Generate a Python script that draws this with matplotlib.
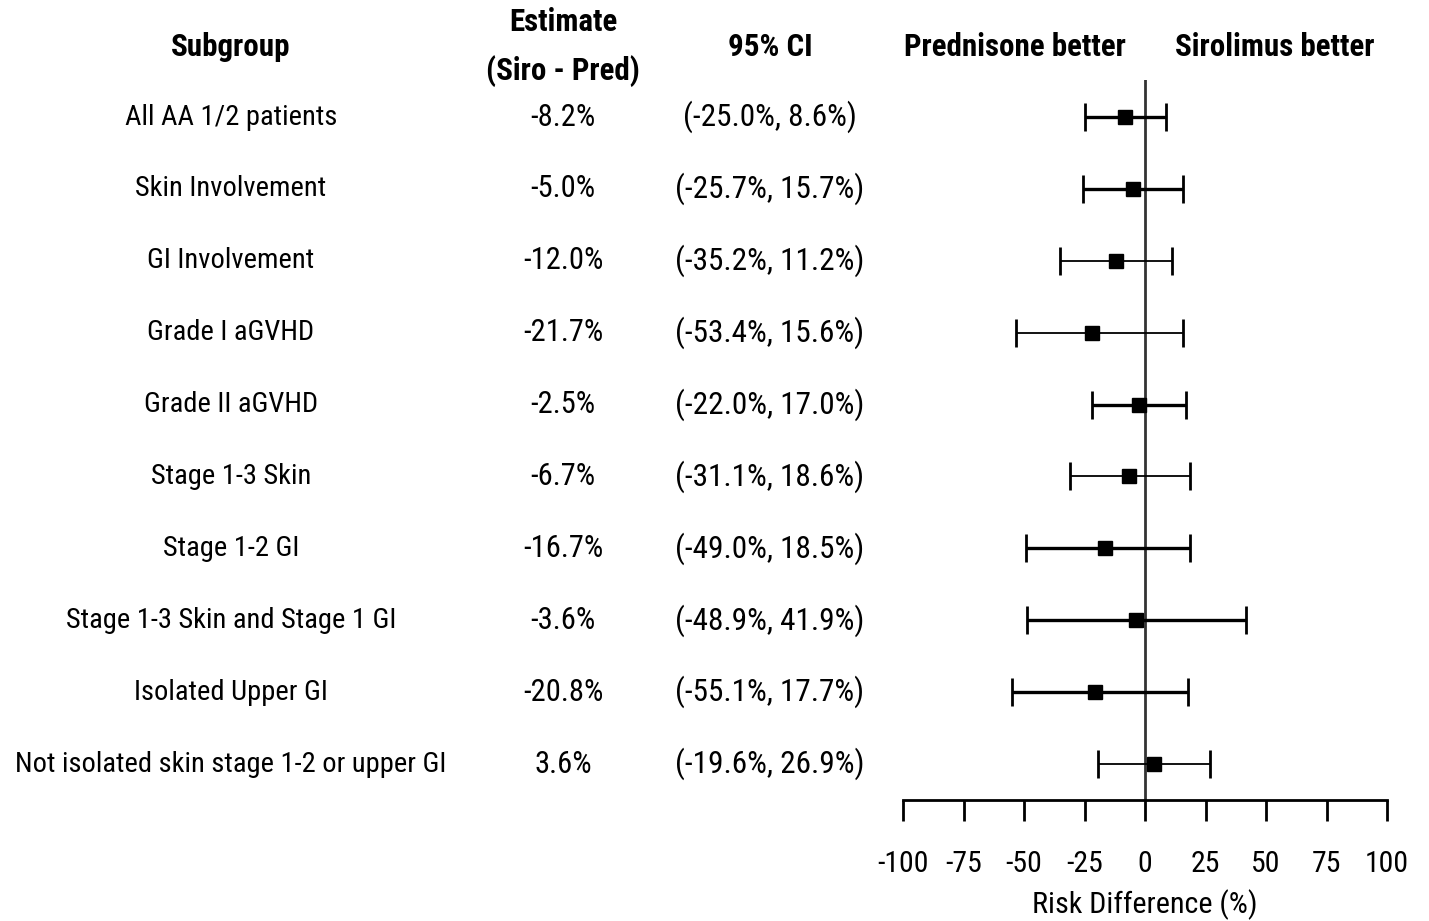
import numpy as np
import matplotlib
matplotlib.use('Agg')
import matplotlib.pyplot as plt
from matplotlib import font_manager

# pick a condensed font (reference uses an Arial Narrow look)
names = set(f.name for f in font_manager.fontManager.ttflist)
fam = 'Liberation Sans'
for cand in ['Liberation Sans Narrow', 'Arial Narrow', 'Roboto Condensed',
             'PT Sans Narrow', 'Archivo Narrow', 'Open Sans Condensed']:
    if cand in names:
        fam = cand
        break
plt.rcParams['font.family'] = [fam, 'DejaVu Sans']

subgroups = ['All AA 1/2 patients', 'Skin Involvement', 'GI Involvement',
             'Grade I aGVHD', 'Grade II aGVHD', 'Stage 1-3 Skin', 'Stage 1-2 GI',
             'Stage 1-3 Skin and Stage 1 GI', 'Isolated Upper GI',
             'Not isolated skin stage 1-2 or upper GI']
est = [-8.2, -5.0, -12.0, -21.7, -2.5, -6.7, -16.7, -3.6, -20.8, 3.6]
lo = [-25.0, -25.7, -35.2, -53.4, -22.0, -31.1, -49.0, -48.9, -55.1, -19.6]
hi = [8.6, 15.7, 11.2, 15.6, 17.0, 18.6, 18.5, 41.9, 17.7, 26.9]
ticks = [-100, -75, -50, -25, 0, 25, 50, 75, 100]
lws = [2.4, 2.4, 1.3, 1.3, 2.4, 1.3, 2.4, 2.4, 2.4, 1.3]

W, H = 1429, 921
fig = plt.figure(figsize=(W/100, H/100), dpi=100)
ax = fig.add_axes([903/W, (H-800)/H, 484/W, 720/H])

n = len(subgroups)
ypos = np.arange(1, n+1)
for i in range(n):
    ax.errorbar(est[i], ypos[i], xerr=[[est[i]-lo[i]], [hi[i]-est[i]]],
                fmt='s', color='black', ms=10.5, lw=lws[i], capsize=10,
                capthick=2, zorder=3)
ax.axvline(0, color='#333333', lw=2, zorder=2)

ax.set_xlim(-100, 100)
ax.set_ylim(10.5, 0.485)
ax.set_xticks(ticks)
ax.set_xticklabels([str(t) for t in ticks], fontsize=21.5)
ax.set_yticks([])
for s in ['left', 'right', 'top']:
    ax.spines[s].set_visible(False)
ax.spines['bottom'].set_linewidth(2)
ax.tick_params(axis='x', direction='out', length=15, width=2, pad=21)
ax.set_xlabel('Risk Difference (%)', fontsize=21.7, labelpad=8)

def yfig(py):
    return 1 - py/H

rows_px = 117 + (764-117)/(n-1)*np.arange(n)
for i in range(n):
    y = yfig(rows_px[i])
    fig.text(231/W, y, subgroups[i], ha='center', va='center', fontsize=20.5)
    fig.text(563/W, y, f'{est[i]:.1f}%', ha='center', va='center', fontsize=22)
    fig.text(770/W, y, f'({lo[i]:.1f}%, {hi[i]:.1f}%)', ha='center', va='center', fontsize=22.5)

hfs = 22.3
fig.text(231/W, yfig(47), 'Subgroup', ha='center', va='center', fontsize=hfs, fontweight='bold')
fig.text(563/W, yfig(22), 'Estimate', ha='center', va='center', fontsize=hfs, fontweight='bold')
fig.text(563/W, yfig(71), '(Siro - Pred)', ha='center', va='center', fontsize=hfs, fontweight='bold')
fig.text(770/W, yfig(47), '95% CI', ha='center', va='center', fontsize=hfs, fontweight='bold')
fig.text(1015/W, yfig(47), 'Prednisone better', ha='center', va='center', fontsize=hfs, fontweight='bold')
fig.text(1275/W, yfig(47), 'Sirolimus better', ha='center', va='center', fontsize=hfs, fontweight='bold')

fig.savefig('out.png', dpi=100)
